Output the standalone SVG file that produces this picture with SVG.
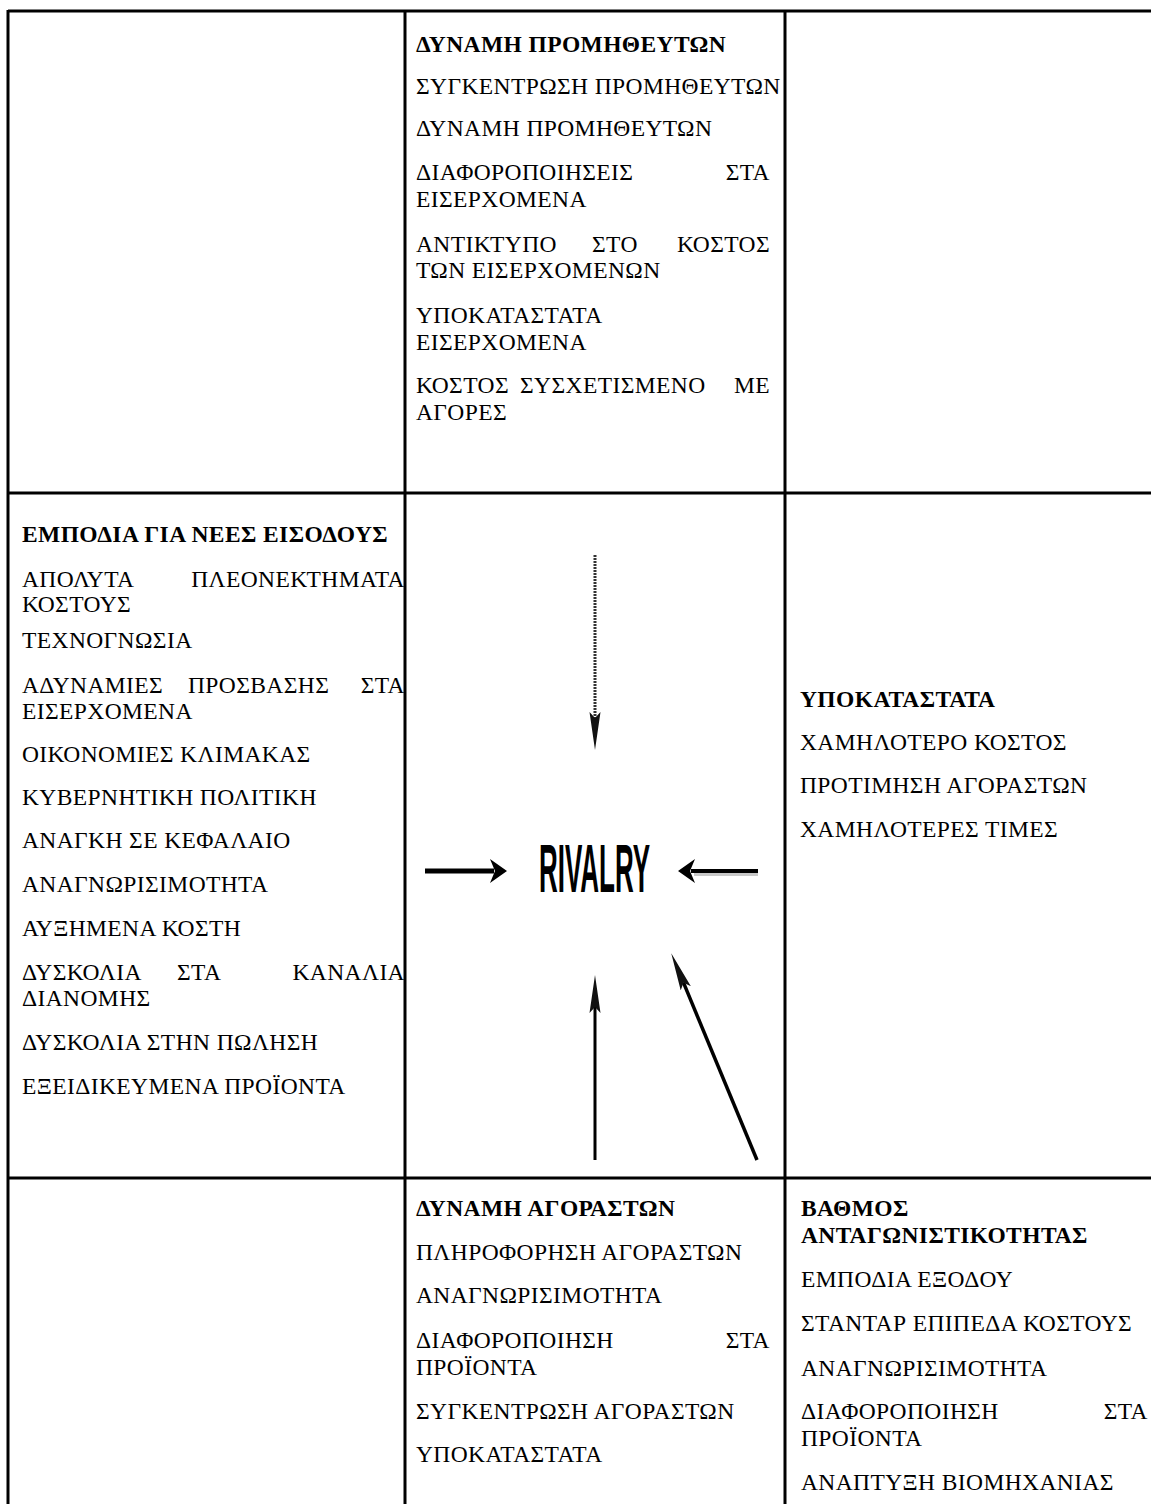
<svg xmlns="http://www.w3.org/2000/svg" width="1151" height="1504" viewBox="0 0 1151 1504">
<style>
.t{font-family:"Liberation Serif","Times New Roman",serif;font-size:23.5px;letter-spacing:0.4px;fill:#000}
.b{font-weight:bold}
.e{text-anchor:end}
.grid{stroke:#000;stroke-width:3;fill:none}
.arr{stroke:#000;fill:none}
</style>
<defs>
<marker id="wide" markerWidth="17" markerHeight="25" refX="4" refY="12.5" orient="auto" markerUnits="userSpaceOnUse" viewBox="0 0 17 25">
<path d="M0,0.5 L17,12.5 L0,24.5 L5,12.5 Z" fill="#000"/>
</marker>
<marker id="narrow" markerWidth="38" markerHeight="12" refX="6" refY="6" orient="auto" markerUnits="userSpaceOnUse" viewBox="0 0 38 12">
<path d="M0,0.5 L38,6 L0,11.5 L6,6 Z" fill="#111"/>
</marker>
</defs>
<rect width="1151" height="1504" fill="#fff"/>
<g id="table" class="grid">
<line x1="8" y1="11" x2="1151" y2="11"/>
<line x1="8" y1="493" x2="1151" y2="493"/>
<line x1="8" y1="1178" x2="1151" y2="1178"/>
<line x1="8" y1="10" x2="8" y2="1504"/>
<line x1="405" y1="10" x2="405" y2="1504"/>
<line x1="785" y1="10" x2="785" y2="1504"/>
</g>
<g id="suppliers" class="t">
<text x="416" y="52" class="b">ΔΥΝΑΜΗ ΠΡΟΜΗΘΕΥΤΩΝ</text>
<text x="416" y="94">ΣΥΓΚΕΝΤΡΩΣΗ ΠΡΟΜΗΘΕΥΤΩΝ</text>
<text x="416" y="136">ΔΥΝΑΜΗ ΠΡΟΜΗΘΕΥΤΩΝ</text>
<text x="416" y="180">ΔΙΑΦΟΡΟΠΟΙΗΣΕΙΣ</text><text x="770" y="180" class="e">ΣΤΑ</text>
<text x="416" y="207">ΕΙΣΕΡΧΟΜΕΝΑ</text>
<text x="416" y="252">ΑΝΤΙΚΤΥΠΟ</text><text x="592" y="252">ΣΤΟ</text><text x="770" y="252" class="e">ΚΟΣΤΟΣ</text>
<text x="416" y="278">ΤΩΝ ΕΙΣΕΡΧΟΜΕΝΩΝ</text>
<text x="416" y="323">ΥΠΟΚΑΤΑΣΤΑΤΑ</text>
<text x="416" y="350">ΕΙΣΕΡΧΟΜΕΝΑ</text>
<text x="416" y="393">ΚΟΣΤΟΣ</text><text x="520" y="393">ΣΥΣΧΕΤΙΣΜΕΝΟ</text><text x="770" y="393" class="e">ΜΕ</text>
<text x="416" y="420">ΑΓΟΡΕΣ</text>
</g>
<g id="entry-barriers" class="t">
<text x="22" y="542" class="b">ΕΜΠΟΔΙΑ ΓΙΑ ΝΕΕΣ ΕΙΣΟΔΟΥΣ</text>
<text x="22" y="587">ΑΠΟΛΥΤΑ</text><text x="405" y="587" class="e">ΠΛΕΟΝΕΚΤΗΜΑΤΑ</text>
<text x="22" y="612">ΚΟΣΤΟΥΣ</text>
<text x="22" y="648">ΤΕΧΝΟΓΝΩΣΙΑ</text>
<text x="22" y="693">ΑΔΥΝΑΜΙΕΣ</text><text x="188" y="693">ΠΡΟΣΒΑΣΗΣ</text><text x="405" y="693" class="e">ΣΤΑ</text>
<text x="22" y="719">ΕΙΣΕΡΧΟΜΕΝΑ</text>
<text x="22" y="762">ΟΙΚΟΝΟΜΙΕΣ ΚΛΙΜΑΚΑΣ</text>
<text x="22" y="805">ΚΥΒΕΡΝΗΤΙΚΗ ΠΟΛΙΤΙΚΗ</text>
<text x="22" y="848">ΑΝΑΓΚΗ ΣΕ ΚΕΦΑΛΑΙΟ</text>
<text x="22" y="892">ΑΝΑΓΝΩΡΙΣΙΜΟΤΗΤΑ</text>
<text x="22" y="936">ΑΥΞΗΜΕΝΑ ΚΟΣΤΗ</text>
<text x="22" y="980">ΔΥΣΚΟΛΙΑ</text><text x="177" y="980">ΣΤΑ</text><text x="405" y="980" class="e">ΚΑΝΑΛΙΑ</text>
<text x="22" y="1006">ΔΙΑΝΟΜΗΣ</text>
<text x="22" y="1050">ΔΥΣΚΟΛΙΑ ΣΤΗΝ ΠΩΛΗΣΗ</text>
<text x="22" y="1094">ΕΞΕΙΔΙΚΕΥΜΕΝΑ ΠΡΟΪΟΝΤΑ</text>
</g>
<g id="substitutes" class="t">
<text x="800" y="707" class="b">ΥΠΟΚΑΤΑΣΤΑΤΑ</text>
<text x="800" y="750">ΧΑΜΗΛΟΤΕΡΟ ΚΟΣΤΟΣ</text>
<text x="800" y="793">ΠΡΟΤΙΜΗΣΗ ΑΓΟΡΑΣΤΩΝ</text>
<text x="800" y="837">ΧΑΜΗΛΟΤΕΡΕΣ ΤΙΜΕΣ</text>
</g>
<g id="buyers" class="t">
<text x="416" y="1216" class="b">ΔΥΝΑΜΗ ΑΓΟΡΑΣΤΩΝ</text>
<text x="416" y="1260">ΠΛΗΡΟΦΟΡΗΣΗ ΑΓΟΡΑΣΤΩΝ</text>
<text x="416" y="1303">ΑΝΑΓΝΩΡΙΣΙΜΟΤΗΤΑ</text>
<text x="416" y="1348">ΔΙΑΦΟΡΟΠΟΙΗΣΗ</text><text x="770" y="1348" class="e">ΣΤΑ</text>
<text x="416" y="1375">ΠΡΟΪΟΝΤΑ</text>
<text x="416" y="1419">ΣΥΓΚΕΝΤΡΩΣΗ ΑΓΟΡΑΣΤΩΝ</text>
<text x="416" y="1462">ΥΠΟΚΑΤΑΣΤΑΤΑ</text>
</g>
<g id="competition" class="t">
<text x="801" y="1216" class="b">ΒΑΘΜΟΣ</text>
<text x="801" y="1243" class="b">ΑΝΤΑΓΩΝΙΣΤΙΚΟΤΗΤΑΣ</text>
<text x="801" y="1287">ΕΜΠΟΔΙΑ ΕΞΟΔΟΥ</text>
<text x="801" y="1331">ΣΤΑΝΤΑΡ ΕΠΙΠΕΔΑ ΚΟΣΤΟΥΣ</text>
<text x="801" y="1376">ΑΝΑΓΝΩΡΙΣΙΜΟΤΗΤΑ</text>
<text x="801" y="1419">ΔΙΑΦΟΡΟΠΟΙΗΣΗ</text><text x="1148" y="1419" class="e">ΣΤΑ</text>
<text x="801" y="1446">ΠΡΟΪΟΝΤΑ</text>
<text x="801" y="1490">ΑΝΑΠΤΥΞΗ ΒΙΟΜΗΧΑΝΙΑΣ</text>
</g>
<g id="rivalry">
<text x="539" y="892" font-family="'Liberation Sans',Arial,sans-serif" font-weight="bold" font-size="68" textLength="111" lengthAdjust="spacingAndGlyphs" fill="#000">RIVALRY</text>
</g>
<g id="connectors">
<line x1="595" y1="555" x2="595" y2="718" stroke="#333" stroke-width="3" stroke-dasharray="2 1" marker-end="url(#narrow)"/>
<line x1="425" y1="871" x2="494" y2="871" class="arr" stroke-width="5" marker-end="url(#wide)"/>
<line x1="758" y1="874" x2="694" y2="874" stroke="#c8c8c8" stroke-width="4"/>
<line x1="758" y1="871" x2="691" y2="871" class="arr" stroke-width="4" marker-end="url(#wide)"/>
<line x1="595" y1="1160" x2="595" y2="1007" class="arr" stroke-width="3" marker-end="url(#narrow)"/>
<line x1="757" y1="1160" x2="683.5" y2="982.7" class="arr" stroke-width="3.5" marker-end="url(#narrow)"/>
</g>
</svg>
